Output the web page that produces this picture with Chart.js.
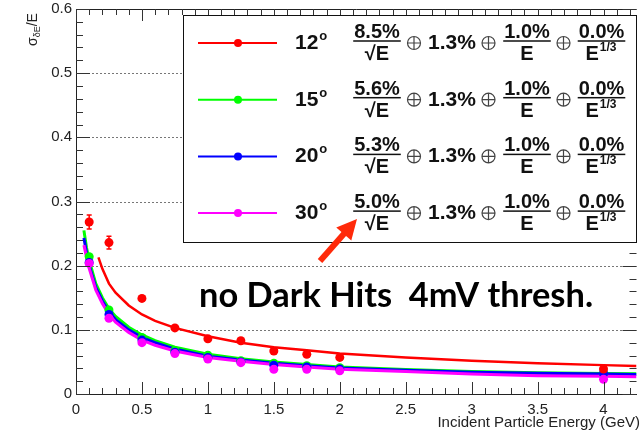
<!DOCTYPE html>
<html>
<head>
<meta charset="utf-8">
<script src="https://cdn.jsdelivr.net/npm/chart.js@4.4.1/dist/chart.umd.min.js"></script>
<style>
  html, body { margin: 0; padding: 0; background: #fff; }
  canvas { display: block; }
</style>
</head>
<body>
<canvas id="res-chart" width="641" height="431"></canvas>
<script>
// measured points
const energies = [0.1, 0.25, 0.5, 0.75, 1.0, 1.25, 1.5, 1.75, 2.0, 4.0];
const res12 = [0.268, 0.236, 0.149, 0.103, 0.086, 0.083, 0.067, 0.062, 0.057, 0.039];
const err12 = [0.011, 0.010, 0, 0, 0, 0, 0, 0, 0, 0];
const res15 = [0.214, 0.131, 0.088, 0.0675, 0.0605, 0.052, 0.048, 0.044, 0.041, 0.032];
const res20 = [0.205, 0.124, 0.084, 0.065, 0.057, 0.050, 0.045, 0.042, 0.039, 0.032];
const res30 = [0.2035, 0.118, 0.080, 0.063, 0.0545, 0.0488, 0.0385, 0.0385, 0.0363, 0.023];

// fitted curves
const fit12X = [0.17, 0.2, 0.25, 0.3, 0.4, 0.5, 0.6, 0.75, 1.0, 1.25, 1.5, 1.75, 2.0, 2.5, 3.0, 3.5, 4.0, 4.25];
const fit12 = [0.213, 0.195, 0.172, 0.158, 0.138, 0.124, 0.114, 0.103, 0.090, 0.080, 0.073, 0.068, 0.063, 0.057, 0.052, 0.048, 0.045, 0.0435];
const fitX = [0.06, 0.08, 0.1, 0.15, 0.2, 0.25, 0.3, 0.4, 0.5, 0.6, 0.75, 1.0, 1.25, 1.5, 1.75, 2.0, 2.5, 3.0, 3.5, 4.0, 4.25];
const fit15 = [0.255, 0.228, 0.208, 0.172, 0.150, 0.133, 0.121, 0.104, 0.092, 0.083, 0.073, 0.062, 0.055, 0.050, 0.046, 0.042, 0.038, 0.035, 0.033, 0.032, 0.0315];
const fit20 = [0.243, 0.220, 0.200, 0.166, 0.145, 0.128, 0.116, 0.100, 0.088, 0.080, 0.070, 0.059, 0.053, 0.048, 0.044, 0.0405, 0.037, 0.034, 0.0325, 0.031, 0.0305];
const fit30 = [0.232, 0.213, 0.196, 0.162, 0.141, 0.124, 0.112, 0.096, 0.084, 0.076, 0.067, 0.057, 0.051, 0.046, 0.042, 0.0385, 0.035, 0.031, 0.0285, 0.0275, 0.027];

// legend text
const angles = ['12', '15', '20', '30'];
const stochTerms = ['8.5%', '5.6%', '5.3%', '5.0%'];
const constTerm = '1.3%';
const noiseTerm = '1.0%';
const cubeTerm = '0.0%';

const xTicks = [0, 0.5, 1, 1.5, 2, 2.5, 3, 3.5, 4];
const yTicks = [0, 0.1, 0.2, 0.3, 0.4, 0.5, 0.6];

const colors = ['#ff0000', '#00ff00', '#0000ff', '#ff00ff'];
const FONT = '"Liberation Sans", Arial, sans-serif';

const toPts = (xs, ys) => xs.map((x, i) => ({ x: x, y: ys[i] }));

const pointSet = (ys, color) => ({
    data: toPts(energies, ys),
    showLine: false,
    pointRadius: 4.5,
    pointHoverRadius: 4.5,
    pointBackgroundColor: color,
    pointBorderColor: color,
    pointBorderWidth: 0,
    order: 0
});
const lineSet = (xs, ys, color, width) => ({
    data: toPts(xs, ys),
    showLine: true,
    pointRadius: 0,
    borderColor: color,
    borderWidth: width,
    tension: 0,
    order: 1
});

// ROOT-like decorations: grid, ticks, frame, labels, legend, notes
const decor = {
    id: 'decor',
    beforeDatasetsDraw(chart) {
        const ctx = chart.ctx, a = chart.chartArea, y = chart.scales.y;
        ctx.save();
        ctx.strokeStyle = '#777';
        ctx.lineWidth = 1;
        ctx.setLineDash([2, 2]);
        [0.1, 0.2, 0.3, 0.4, 0.5].forEach(v => {
            const py = Math.round(y.getPixelForValue(v)) + 0.5;
            ctx.beginPath();
            ctx.moveTo(a.left, py);
            ctx.lineTo(a.right, py);
            ctx.stroke();
        });
        ctx.restore();
    },
    afterDatasetsDraw(chart) {
        const ctx = chart.ctx, a = chart.chartArea;
        const xs = chart.scales.x, ys = chart.scales.y;
        ctx.save();

        // error bars on the 12 degree points
        ctx.strokeStyle = colors[0];
        ctx.lineWidth = 1.5;
        energies.forEach((e, i) => {
            if (!err12[i]) return;
            const px = xs.getPixelForValue(e);
            const top = ys.getPixelForValue(res12[i] + err12[i]);
            const bot = ys.getPixelForValue(res12[i] - err12[i]);
            ctx.beginPath();
            ctx.moveTo(px, top); ctx.lineTo(px, bot);
            ctx.moveTo(px - 2.5, top); ctx.lineTo(px + 2.5, top);
            ctx.moveTo(px - 2.5, bot); ctx.lineTo(px + 2.5, bot);
            ctx.stroke();
        });

        // frame top line
        ctx.strokeStyle = '#222';
        ctx.lineWidth = 1;
        ctx.beginPath();
        ctx.moveTo(a.left, a.top + 0.5);
        ctx.lineTo(a.right, a.top + 0.5);
        ctx.stroke();

        // ticks on all four sides
        ctx.strokeStyle = '#333';
        ctx.beginPath();
        for (let k = 0; k <= 30; k++) {
            const v = k * 0.02;
            const py = Math.round(ys.getPixelForValue(v)) + 0.5;
            const len = (k % 5 === 0) ? 14 : 7;
            ctx.moveTo(a.left, py); ctx.lineTo(a.left + len, py);
            ctx.moveTo(a.right, py); ctx.lineTo(a.right - len, py);
        }
        for (let k = 0; k <= 42; k++) {
            const v = k * 0.1;
            const px = Math.round(xs.getPixelForValue(v)) + 0.5;
            const len = (k % 5 === 0) ? 12 : 6;
            ctx.moveTo(px, a.bottom); ctx.lineTo(px, a.bottom - len);
            ctx.moveTo(px, a.top); ctx.lineTo(px, a.top + len);
        }
        ctx.stroke();

        // tick labels
        ctx.fillStyle = '#222';
        ctx.font = '15px ' + FONT;
        ctx.textAlign = 'center';
        ctx.textBaseline = 'top';
        xTicks.forEach(v => ctx.fillText(String(v), xs.getPixelForValue(v), a.bottom + 8));
        ctx.textAlign = 'right';
        ctx.textBaseline = 'middle';
        yTicks.forEach(v => ctx.fillText(v === 0 ? '0' : v.toFixed(1), a.left - 4, ys.getPixelForValue(v)));

        // axis titles
        const xTitle = 'Incident Particle Energy (GeV)';
        ctx.font = '15px ' + FONT;
        ctx.textAlign = 'right';
        ctx.textBaseline = 'alphabetic';
        ctx.fillText(xTitle, 640, 427);

        ctx.save();
        ctx.translate(37, 46);
        ctx.rotate(-Math.PI / 2);
        ctx.textAlign = 'left';
        ctx.font = '14px ' + FONT;
        ctx.fillText('\u03c3', 0, 0);
        let w = ctx.measureText('\u03c3').width;
        ctx.font = '9px ' + FONT;
        ctx.fillText('\u03b4E', w, 3);
        w += ctx.measureText('\u03b4E').width;
        ctx.font = '14px ' + FONT;
        ctx.fillText('/E', w, 0);
        ctx.restore();

        // legend box
        const lx = 183, ly = 15, lw = 453, lh = 227;
        ctx.fillStyle = '#fff';
        ctx.fillRect(lx, ly, lw, lh);
        ctx.strokeStyle = '#111';
        ctx.lineWidth = 1;
        ctx.strokeRect(lx + 0.5, ly + 0.5, lw, lh);

        const oplus = (cx, cy) => {
            ctx.save();
            ctx.strokeStyle = '#444';
            ctx.lineWidth = 1.2;
            ctx.beginPath();
            ctx.arc(cx, cy, 6.5, 0, Math.PI * 2);
            ctx.moveTo(cx - 6.5, cy); ctx.lineTo(cx + 6.5, cy);
            ctx.moveTo(cx, cy - 6.5); ctx.lineTo(cx, cy + 6.5);
            ctx.stroke();
            ctx.restore();
        };
        const frac = (cx, barY, num, denom) => {
            ctx.font = 'bold 20px ' + FONT;
            ctx.textAlign = 'center';
            ctx.textBaseline = 'alphabetic';
            ctx.fillStyle = '#111';
            ctx.fillText(num, cx, barY - 3);
            const nw = ctx.measureText(num).width;
            ctx.fillRect(cx - nw / 2 - 1, barY - 0.75, nw + 2, 1.5);
            denom(cx, barY + 19);
        };

        angles.forEach((ang, i) => {
            const cy = 43 + i * 56.7;
            const c = colors[i];
            // sample line + marker
            ctx.strokeStyle = c;
            ctx.lineWidth = 2;
            ctx.beginPath();
            ctx.moveTo(198, cy); ctx.lineTo(277, cy);
            ctx.stroke();
            ctx.fillStyle = c;
            ctx.beginPath();
            ctx.arc(238, cy, 4, 0, Math.PI * 2);
            ctx.fill();

            ctx.fillStyle = '#111';
            ctx.textAlign = 'left';
            ctx.textBaseline = 'alphabetic';
            ctx.font = 'bold 21px ' + FONT;
            ctx.fillText(ang, 295, cy + 6);
            const aw = ctx.measureText(ang).width;
            ctx.font = 'bold 13px ' + FONT;
            ctx.fillText('o', 295 + aw + 1, cy - 3);

            frac(377, cy - 2, stochTerms[i], (cx, base) => {
                ctx.font = 'bold 20px ' + FONT;
                ctx.fillText('\u221aE', cx, base);
            });
            oplus(414, cy);
            ctx.font = 'bold 21px ' + FONT;
            ctx.textAlign = 'left';
            ctx.fillText(constTerm, 428, cy + 6);
            oplus(488.5, cy);
            frac(527, cy - 2, noiseTerm, (cx, base) => {
                ctx.font = 'bold 20px ' + FONT;
                ctx.fillText('E', cx, base);
            });
            oplus(563.5, cy);
            frac(601.5, cy - 2, cubeTerm, (cx, base) => {
                ctx.font = 'bold 20px ' + FONT;
                ctx.textAlign = 'left';
                ctx.fillText('E', cx - 16, base);
                const ew = ctx.measureText('E').width;
                ctx.font = 'bold 12px ' + FONT;
                ctx.fillText('1/3', cx - 16 + ew + 1, base - 9);
            });
        });

        // annotation text
        const note = 'no Dark Hits  4mV thresh.';
        ctx.font = 'bold 40px Lato, "Open Sans", sans-serif';
        const nw = ctx.measureText(note).width;
        const size = 40 * 394 / nw;
        ctx.font = 'bold ' + size.toFixed(1) + 'px Lato, "Open Sans", sans-serif';
        ctx.fillStyle = '#000';
        ctx.textAlign = 'left';
        ctx.fillText(note, 199, 307);

        // red arrow
        const tx = 320, ty = 261, hx = 357, hy = 219;
        const ang = Math.atan2(hy - ty, hx - tx);
        ctx.strokeStyle = '#ff2a0a';
        ctx.fillStyle = '#ff2a0a';
        ctx.lineWidth = 6;
        ctx.beginPath();
        ctx.moveTo(tx, ty);
        ctx.lineTo(hx - 14 * Math.cos(ang), hy - 14 * Math.sin(ang));
        ctx.stroke();
        ctx.beginPath();
        ctx.moveTo(hx, hy);
        ctx.lineTo(hx - 20 * Math.cos(ang) + 10 * Math.sin(ang), hy - 20 * Math.sin(ang) - 10 * Math.cos(ang));
        ctx.lineTo(hx - 20 * Math.cos(ang) - 10 * Math.sin(ang), hy - 20 * Math.sin(ang) + 10 * Math.cos(ang));
        ctx.closePath();
        ctx.fill();

        ctx.restore();
    }
};

const resCanvas = document.getElementById('res-chart');
const resChart = new Chart(resCanvas, {
    type: 'scatter',
    data: {
        datasets: [
            pointSet(res12, colors[0]),
            pointSet(res30, colors[3]),
            pointSet(res20, colors[2]),
            pointSet(res15, colors[1]),
            lineSet(fit12X, fit12, colors[0], 2.5),
            lineSet(fitX, fit30, colors[3], 3),
            lineSet(fitX, fit20, colors[2], 3),
            lineSet(fitX, fit15, colors[1], 3)
        ]
    },
    options: {
        responsive: false,
        animation: false,
        events: [],
        layout: { padding: { top: 9, right: 0, left: 0, bottom: 0 } },
        scales: {
            x: {
                type: 'linear',
                min: 0,
                max: 4.25,
                grid: { display: false },
                border: { display: true, color: '#222', width: 1 },
                ticks: { display: false },
                afterFit: (s) => { s.height = 37; }
            },
            y: {
                type: 'linear',
                min: 0,
                max: 0.6,
                grid: { display: false },
                border: { display: true, color: '#222', width: 1 },
                ticks: { display: false },
                afterFit: (s) => { s.width = 76; }
            }
        },
        plugins: {
            legend: { display: false },
            tooltip: { enabled: false }
        }
    },
    plugins: [decor]
});
</script>
</body>
</html>
